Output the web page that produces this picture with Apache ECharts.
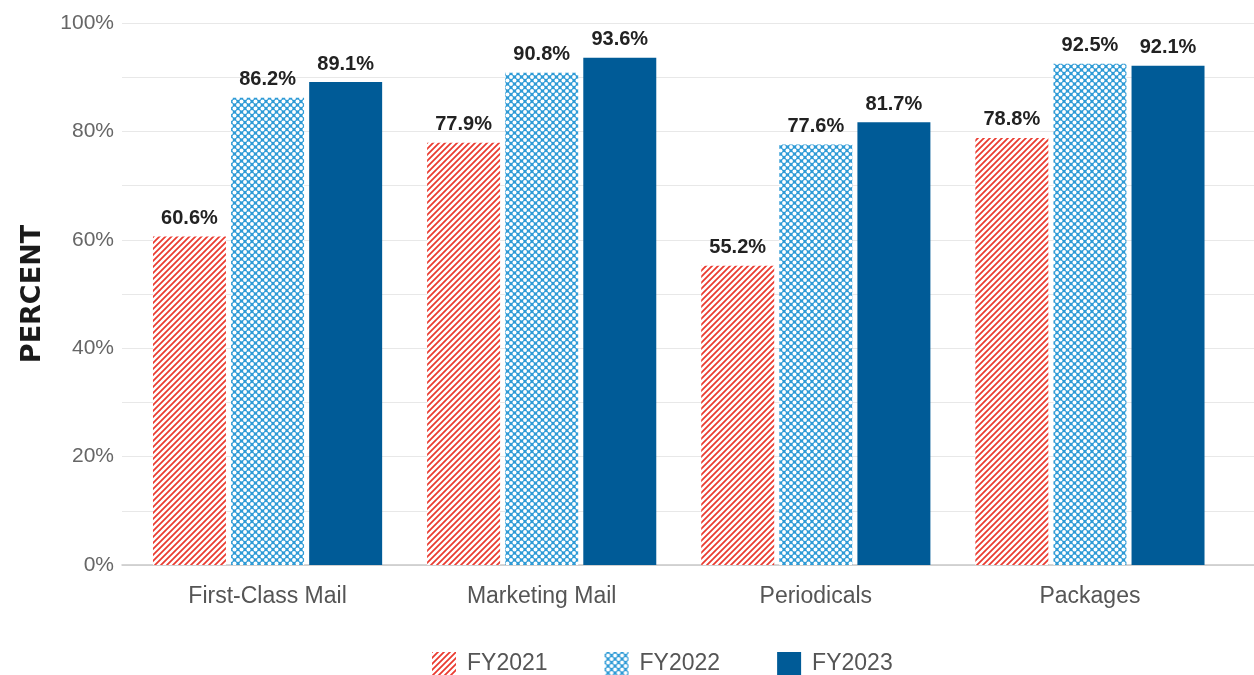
<!DOCTYPE html>
<html>
<head>
<meta charset="utf-8">
<script src="https://cdn.jsdelivr.net/npm/echarts@6/dist/echarts.min.js"></script>
<style>
html,body{margin:0;padding:0;background:#fff;}
#chart{width:1254px;height:675px;}
</style>
</head>
<body>
<div id="chart"></div>
<script>
const categories = ['First-Class Mail', 'Marketing Mail', 'Periodicals', 'Packages'];
const seriesNames = ['FY2021', 'FY2022', 'FY2023'];
const fy2021 = [60.6, 77.9, 55.2, 78.8];
const fy2022 = [86.2, 90.8, 77.6, 92.5];
const fy2023 = [89.1, 93.6, 81.7, 92.1];
const yTicks = [0, 20, 40, 60, 80, 100];

const FONT = 'Liberation Sans, Arial, Helvetica, sans-serif';

function stripePattern() {
  const c = document.createElement('canvas');
  const s = 6;
  c.width = s; c.height = s;
  const g = c.getContext('2d');
  g.fillStyle = '#ffffff';
  g.fillRect(0, 0, s, s);
  g.strokeStyle = '#ea3b30';
  g.lineWidth = 1.75;
  g.beginPath();
  g.moveTo(-1, s + 1); g.lineTo(s + 1, -1);
  g.moveTo(-1, 1); g.lineTo(1, -1);
  g.moveTo(s - 1, s + 1); g.lineTo(s + 1, s - 1);
  g.stroke();
  return c;
}
function dotPattern() {
  const c = document.createElement('canvas');
  const s = 7;
  c.width = s; c.height = s;
  const g = c.getContext('2d');
  g.fillStyle = '#2f9bd6';
  g.fillRect(0, 0, s, s);
  g.fillStyle = '#ffffff';
  const pts = [[0,0],[s,0],[0,s],[s,s],[s/2,s/2]];
  pts.forEach(p => { g.beginPath(); g.arc(p[0], p[1], 1.95, 0, Math.PI*2); g.fill(); });
  return c;
}

const chart = echarts.init(document.getElementById('chart'), null, {renderer: 'canvas'});
const labelCfg = {
  show: true, position: 'top', distance: 8,
  formatter: p => p.value.toFixed(1) + '%',
  fontFamily: FONT, fontWeight: 'bold', fontSize: 20, color: '#222'
};
const colors = [
  {image: stripePattern(), repeat: 'repeat'},
  {image: dotPattern(), repeat: 'repeat'},
  '#005b97'
];
const dataSets = [fy2021, fy2022, fy2023];

chart.setOption({
  animation: false,
  grid: [
    {left: 122, right: 0, top: 23, bottom: 110},
    {left: 130.5, right: 27, top: 23, bottom: 110}
  ],
  legend: {
    left: 427, top: 647,
    itemWidth: 24, itemHeight: 24, itemGap: 57,
    icon: 'rect',
    textStyle: {fontFamily: FONT, fontSize: 23, color: '#555', padding: [0,0,0,6]},
    data: seriesNames
  },
  xAxis: [
    {
      gridIndex: 0, type: 'value', min: 0, max: 1,
      axisLine: {show: true, lineStyle: {color: '#c8c8c8', width: 1.5}},
      axisTick: {show: false}, axisLabel: {show: false}, splitLine: {show: false}
    },
    {
      gridIndex: 1, type: 'category', data: categories,
      axisLine: {show: false},
      axisTick: {show: false},
      axisLabel: {fontFamily: FONT, fontSize: 23, color: '#555', margin: 20}
    }
  ],
  yAxis: [
    {
      gridIndex: 0, type: 'value', min: 0, max: 100, interval: 10,
      name: 'PERCENT', nameLocation: 'middle', nameGap: 76,
      nameTextStyle: {fontFamily: 'DejaVu Sans, sans-serif', fontSize: 27, fontWeight: 'bold', color: '#1a1a1a'},
      axisLine: {show: false}, axisTick: {show: false},
      axisLabel: {
        fontFamily: FONT, fontSize: 21, color: '#666', margin: 8,
        formatter: v => yTicks.indexOf(v) >= 0 ? v + '%' : ''
      },
      splitLine: {lineStyle: {color: '#e8e8e8', width: 1}}
    },
    {
      gridIndex: 1, type: 'value', min: 0, max: 100, interval: 10, show: false,
      splitLine: {show: false}
    }
  ],
  series: seriesNames.map((n, i) => ({
    name: n, type: 'bar', data: dataSets[i],
    xAxisIndex: 1, yAxisIndex: 1,
    barGap: '7%', barCategoryGap: '16.4%',
    itemStyle: {color: colors[i]},
    label: labelCfg
  }))
});
</script>
</body>
</html>
